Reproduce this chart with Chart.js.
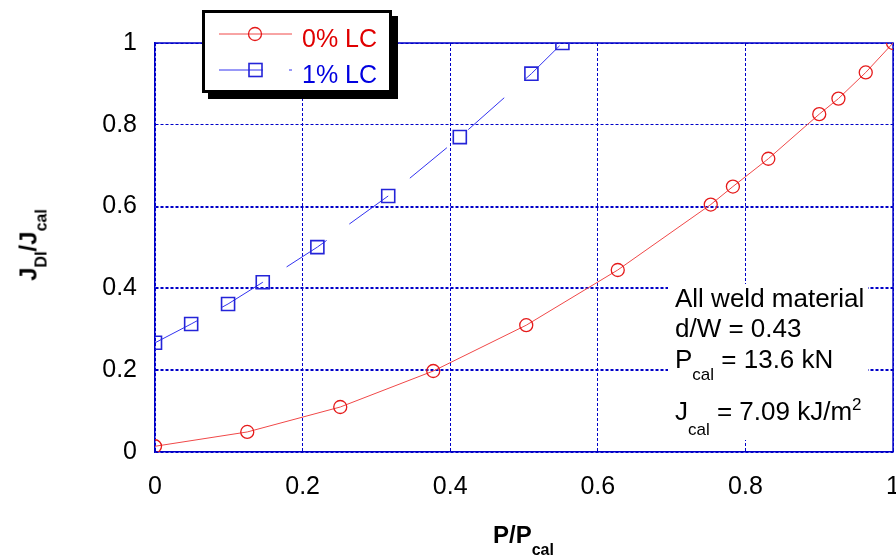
<!DOCTYPE html>
<html>
<head>
<meta charset="utf-8">
<script src="https://cdn.jsdelivr.net/npm/chart.js@4.4.1/dist/chart.umd.min.js"></script>
<style>
  body { margin: 0; overflow: hidden; background: #fff; font-family: "Liberation Sans", Arial, sans-serif; }
  #wrap { position: relative; width: 896px; height: 557px; overflow: hidden; }
  canvas { position: absolute; left: 0; top: 0; }
  .txt { position: absolute; white-space: nowrap; color: #000; }
  .sub { position: relative; }
  #legend { position: absolute; left: 202px; top: 10px; width: 190px; height: 83px; box-sizing: border-box;
            border: 3px solid #000; box-shadow: 6px 6px 0 #000; background: #fff; }
  #note { position: absolute; left: 668px; top: 284px; width: 200px; height: 156px; background: #fff; }
</style>
</head>
<body>
<div id="wrap">
  <canvas id="chart" width="920" height="557"></canvas>
  <div id="legend"></div>
  <div id="note"></div>
  <div class="txt" style="left:675px;top:285px;font-size:26px;line-height:26px;">All weld material</div>
  <div class="txt" style="left:675px;top:315px;font-size:26px;line-height:26px;">d/W = 0.43</div>
  <div class="txt" style="left:675px;top:346px;font-size:26px;line-height:26px;">P<span class="sub" style="font-size:17px;top:12px;">cal</span> = 13.6 kN</div>
  <div class="txt" style="left:675px;top:398px;font-size:26px;line-height:26px;">J<span class="sub" style="font-size:17px;top:15px;">cal</span> = 7.09 kJ/m<span class="sub" style="font-size:17px;top:-10px;">2</span></div>
  <div class="txt" style="left:493px;top:523px;font-size:24px;line-height:24px;font-weight:bold;">P/P<span class="sub" style="font-size:16px;top:12px;">cal</span></div>
  <div class="txt" style="left:30px;top:245px;font-size:24px;line-height:24px;font-weight:bold;transform:translate(-50%,-50%) rotate(-90deg);">J<span class="sub" style="font-size:16px;top:10px;">DI</span>/J<span class="sub" style="font-size:16px;top:10px;">cal</span></div>
</div>
<script>
// 0% LC
const xLC0 = [0, 0.125, 0.251, 0.377, 0.503, 0.627, 0.753, 0.783, 0.831, 0.900, 0.926, 0.963, 1.0];
const yLC0 = [0.014, 0.049, 0.11, 0.198, 0.31, 0.445, 0.605, 0.649, 0.717, 0.826, 0.864, 0.928, 1.0];
// 1% LC
const xLC1 = [0, 0.049, 0.099, 0.146, 0.220, 0.316, 0.413, 0.510, 0.552];
const yLC1 = [0.267, 0.313, 0.362, 0.415, 0.501, 0.626, 0.770, 0.925, 1.0];

const xTickLabels = ['0', '0.2', '0.4', '0.6', '0.8', '1'];
const yTickLabels = ['0', '0.2', '0.4', '0.6', '0.8', '1'];
const seriesLabels = ['0% LC', '1% LC'];

const toPoints = (xs, ys) => xs.map((x, i) => ({ x: x, y: ys[i] }));
const axisBlue = '#0000c8';

// solid frame on top and right side of the plot
const framePlugin = {
  id: 'frame',
  beforeDatasetsDraw(chart) {
    const { ctx, chartArea: a } = chart;
    ctx.save();
    ctx.strokeStyle = axisBlue;
    ctx.lineWidth = 1.5;
    ctx.beginPath();
    ctx.moveTo(a.left, a.top);
    ctx.lineTo(a.right, a.top);
    ctx.lineTo(a.right, a.bottom);
    ctx.stroke();
    ctx.restore();
  }
};

const chart = new Chart(document.getElementById('chart'), {
  type: 'scatter',
  data: {
    datasets: [
      {
        label: seriesLabels[0],
        data: toPoints(xLC0, yLC0),
        showLine: true,
        borderColor: '#f04848',
        borderWidth: 1,
        pointStyle: 'circle',
        pointRadius: 6.5,
        pointBorderColor: '#e51a1a',
        pointBorderWidth: 1.3,
        pointBackgroundColor: 'rgba(0,0,0,0)',
        textColor: '#e00000',
      },
      {
        label: seriesLabels[1],
        data: toPoints(xLC1, yLC1),
        showLine: true,
        borderColor: '#3232f0',
        borderWidth: 1,
        borderDash: [48, 28],
        pointStyle: 'rect',
        pointRadius: 9.2,
        pointBorderColor: '#2424d8',
        pointBorderWidth: 1.6,
        pointBackgroundColor: 'rgba(0,0,0,0)',
        textColor: '#0000e0',
      }
    ]
  },
  options: {
    responsive: false,
    animation: false,
    layout: { padding: { left: 0, top: 43, right: 25, bottom: 0 } },
    plugins: { legend: { display: false }, tooltip: { enabled: false } },
    scales: {
      x: {
        type: 'linear', min: 0, max: 1,
        afterFit: (s) => { s.height = 105; },
        ticks: {
          stepSize: 0.2, padding: 20, color: '#000',
          font: { family: '"Liberation Sans", Arial, sans-serif', size: 25 },
          callback: (v, i) => xTickLabels[i]
        },
        grid: { color: axisBlue, lineWidth: 1, drawTicks: false },
        border: { color: axisBlue, width: 1.5, dash: [3, 2] }
      },
      y: {
        type: 'linear', min: 0, max: 1,
        afterFit: (s) => { s.width = 155; },
        ticks: {
          stepSize: 0.2, padding: 18, color: '#000',
          font: { family: '"Liberation Sans", Arial, sans-serif', size: 25 },
          callback: (v, i) => yTickLabels[i]
        },
        grid: {
          color: axisBlue, drawTicks: false,
          lineWidth: (c) => (c.tick && c.tick.value > 0.1 && c.tick.value < 0.7 ? 2 : 1)
        },
        border: { color: axisBlue, width: 1.5, dash: [3, 2] }
      }
    }
  },
  plugins: [framePlugin]
});

// legend box built from the datasets
const legend = document.getElementById('legend');
chart.data.datasets.forEach((ds, i) => {
  const y = 21 + i * 36;
  const svg = document.createElementNS('http://www.w3.org/2000/svg', 'svg');
  svg.setAttribute('width', '100');
  svg.setAttribute('height', '30');
  svg.style.cssText = 'position:absolute;left:0;top:' + (y - 15) + 'px;';
  const line = document.createElementNS(svg.namespaceURI, 'line');
  line.setAttribute('x1', 14); line.setAttribute('x2', 87);
  line.setAttribute('y1', 15); line.setAttribute('y2', 15);
  line.setAttribute('stroke', ds.borderColor);
  line.setAttribute('stroke-width', 1);
  if (ds.borderDash) line.setAttribute('stroke-dasharray', '44 26');
  svg.appendChild(line);
  let mark;
  if (ds.pointStyle === 'rect') {
    mark = document.createElementNS(svg.namespaceURI, 'rect');
    mark.setAttribute('x', 44); mark.setAttribute('y', 8.5);
    mark.setAttribute('width', 13); mark.setAttribute('height', 13);
  } else {
    mark = document.createElementNS(svg.namespaceURI, 'circle');
    mark.setAttribute('cx', 50); mark.setAttribute('cy', 15); mark.setAttribute('r', 6.5);
  }
  mark.setAttribute('fill', 'none');
  mark.setAttribute('stroke', ds.pointBorderColor);
  mark.setAttribute('stroke-width', ds.pointBorderWidth);
  svg.appendChild(mark);
  legend.appendChild(svg);
  const t = document.createElement('div');
  t.className = 'txt';
  t.style.cssText = 'left:97px;top:' + (y - 8) + 'px;font-size:25px;line-height:25px;color:' + ds.textColor + ';';
  t.textContent = ds.label;
  legend.appendChild(t);
});
</script>
</body>
</html>
